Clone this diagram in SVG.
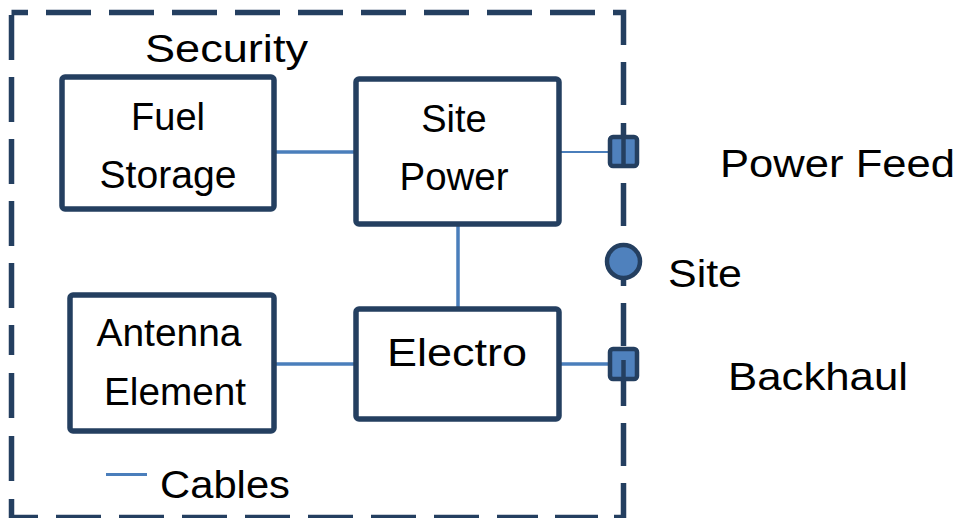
<svg xmlns="http://www.w3.org/2000/svg" width="958" height="518" viewBox="0 0 958 518">
<style>
.box{fill:#ffffff;stroke:#243f60;stroke-width:5.5}
.cable{stroke:#4a7ebb;stroke-width:3.5;fill:none}
.t{font-family:"Liberation Sans",Arial,sans-serif;font-size:38px;fill:#000}
.port{fill:#4f81bd;stroke:#243f60;stroke-width:4.5}
.dark{stroke:#243f60;stroke-width:5.5;fill:none}
</style>
<rect width="958" height="518" fill="#ffffff"/>
<g id="boundary">
<path class="dark" d="M11.5,12.5 H623.5 V517.5 H11.5 Z" stroke-dasharray="16.5 18 45 18 45 18 45 18 45 18 45 18 45 18 45 18 45 18 45 18 43 17 43 18 43 17 43 17 43 17 43 17 43 17 43 17 44 16 43 17 41 18 45 18 45 18 45 18 45 18 45 18 45 18 45 18 45 18 45 18 45 18 30 17 45 17 45 17 45 17 45 17 45 17 45 17 45 17 29"/>
<text class="t" x="145" y="62" textLength="163" lengthAdjust="spacingAndGlyphs">Security</text>
</g>
<g id="connectors">
<line class="cable" x1="275" y1="152" x2="355" y2="152"/>
<line class="cable" x1="458" y1="224" x2="458" y2="309"/>
<line class="cable" x1="275" y1="364" x2="355" y2="364"/>
<line class="cable" x1="559" y1="152" x2="608" y2="152" style="stroke-width:2"/>
<line class="cable" x1="559" y1="364" x2="608" y2="364"/>
</g>
<g id="fuel-storage">
<rect class="box" x="62" y="77" width="212" height="132" rx="3"/>
<text class="t" x="168" y="130" text-anchor="middle">Fuel</text>
<text class="t" x="168" y="188" text-anchor="middle" textLength="137" lengthAdjust="spacingAndGlyphs">Storage</text>
</g>
<g id="site-power">
<rect class="box" x="356" y="79" width="203" height="145" rx="3"/>
<text class="t" x="454" y="132" text-anchor="middle">Site</text>
<text class="t" x="454" y="190" text-anchor="middle" textLength="109" lengthAdjust="spacingAndGlyphs">Power</text>
</g>
<g id="antenna-element">
<rect class="box" x="70" y="295" width="204" height="136" rx="3"/>
<text class="t" x="169" y="346" text-anchor="middle" textLength="145" lengthAdjust="spacingAndGlyphs">Antenna</text>
<text class="t" x="175" y="405" text-anchor="middle" textLength="142" lengthAdjust="spacingAndGlyphs">Element</text>
</g>
<g id="electro">
<rect class="box" x="356" y="309" width="203" height="110" rx="3"/>
<text class="t" x="457" y="366" text-anchor="middle" textLength="140" lengthAdjust="spacingAndGlyphs">Electro</text>
</g>
<g id="power-feed">
<rect class="port" x="610" y="137" width="27" height="29" rx="3"/>
<line class="dark" x1="623.5" y1="135" x2="623.5" y2="167" style="stroke-width:4.5"/>
<text class="t" x="720" y="177" textLength="235" lengthAdjust="spacingAndGlyphs">Power Feed</text>
</g>
<g id="site">
<circle cx="623.5" cy="261.5" r="16.5" fill="#4f81bd" stroke="#243f60" stroke-width="4.5"/>
<text class="t" x="668" y="287" textLength="74" lengthAdjust="spacingAndGlyphs">Site</text>
</g>
<g id="backhaul">
<rect class="port" x="610" y="349" width="27" height="30" rx="3"/>
<line class="dark" x1="623.5" y1="360" x2="623.5" y2="381" style="stroke-width:4.5"/>
<text class="t" x="728" y="390" textLength="180" lengthAdjust="spacingAndGlyphs">Backhaul</text>
</g>
<g id="legend">
<line class="cable" x1="106" y1="474.5" x2="147" y2="474.5" style="stroke-width:3"/>
<text class="t" x="160" y="498" textLength="130" lengthAdjust="spacingAndGlyphs">Cables</text>
</g>
</svg>
